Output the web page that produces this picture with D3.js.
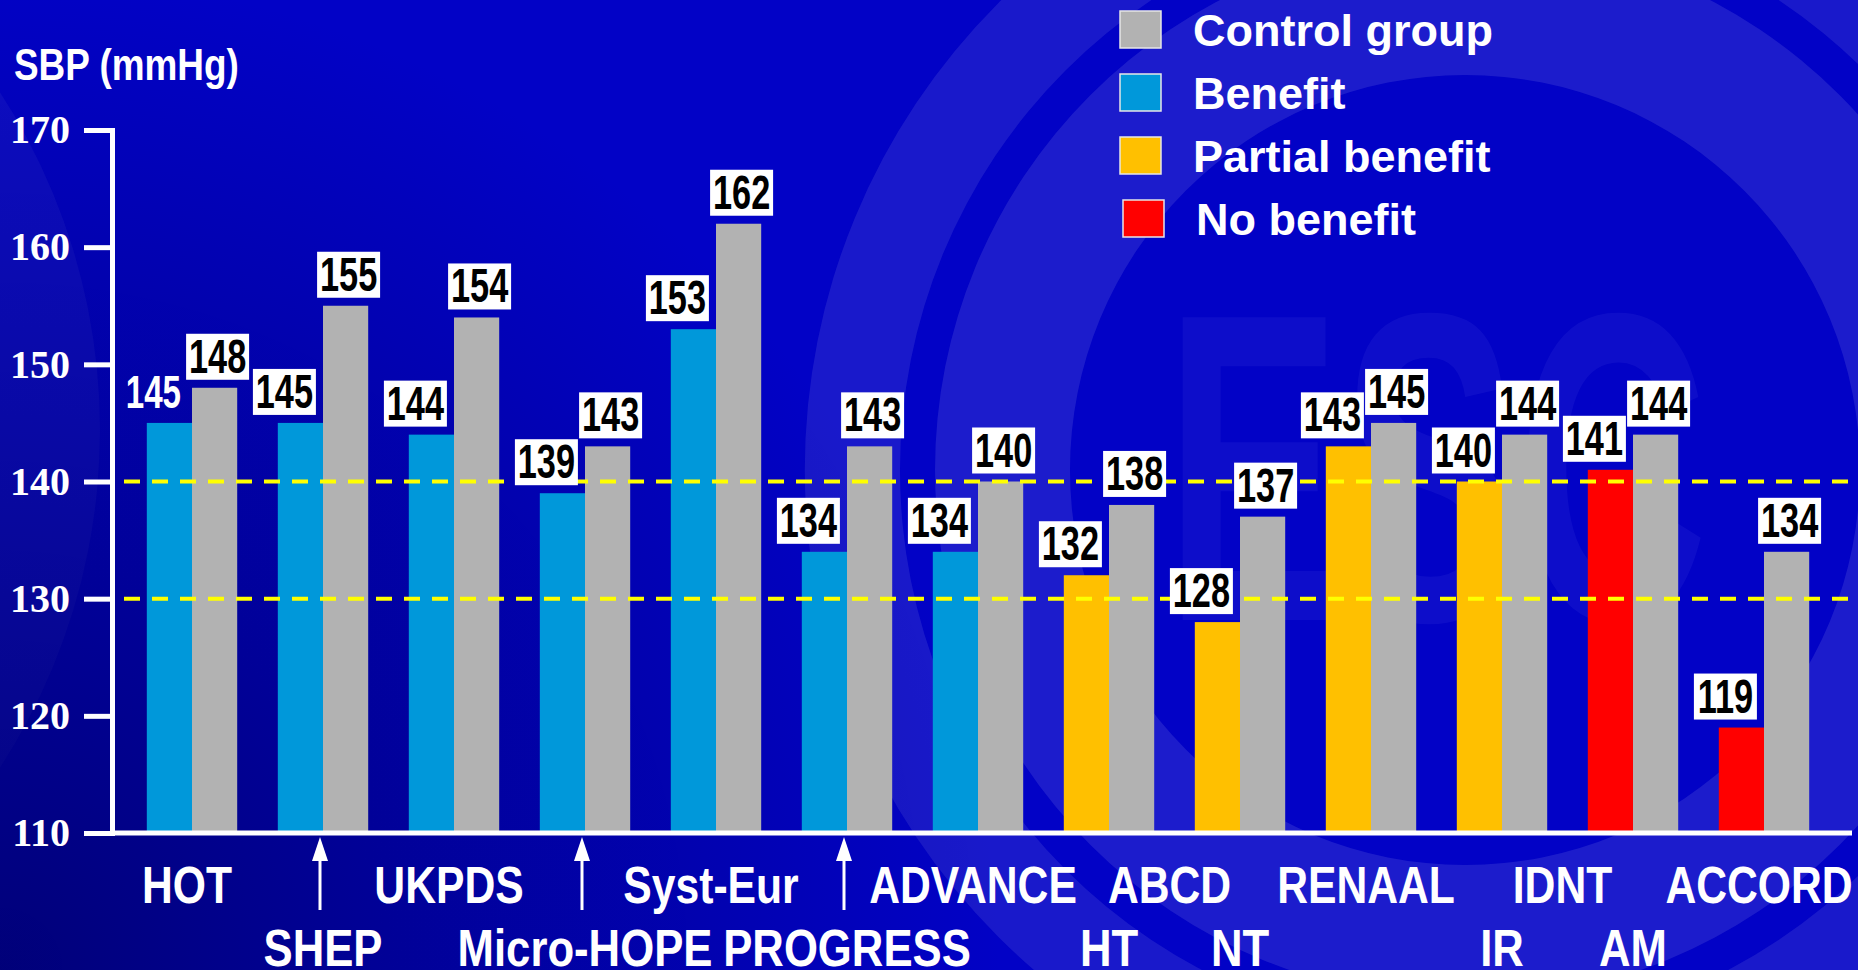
<!DOCTYPE html>
<html>
<head>
<meta charset="utf-8">
<script src="https://cdn.jsdelivr.net/npm/d3@7"></script>
<style>
  html, body { margin: 0; padding: 0; background: #0202c6; overflow: hidden; }
</style>
</head>
<body>
<div id="chart"></div>
<script>
// trials, in drawing order
const trials = ["HOT", "SHEP", "UKPDS", "Micro-HOPE", "Syst-Eur", "PROGRESS", "ADVANCE",
                "ABCD HT", "ABCD NT", "RENAAL", "IDNT IR", "IDNT AM", "ACCORD"];
// achieved SBP in the treated arm and in the control arm (mmHg)
const treated = [145, 145, 144, 139, 153, 134, 134, 132, 128, 143, 140, 141, 119];
const control = [148, 155, 154, 143, 162, 143, 140, 138, 137, 145, 144, 144, 134];
const outcome = ["Benefit", "Benefit", "Benefit", "Benefit", "Benefit", "Benefit", "Benefit",
                 "Partial benefit", "Partial benefit", "Partial benefit", "Partial benefit",
                 "No benefit", "No benefit"];

const yTicks = [110, 120, 130, 140, 150, 160, 170];
const targetLines = [140, 130];
const legendItems = ["Control group", "Benefit", "Partial benefit", "No benefit"];

// names under the axis: first row, second row
const topLabels = ["HOT", "UKPDS", "Syst-Eur", "ADVANCE", "ABCD", "RENAAL", "IDNT", "ACCORD"];
const topLabelTrials = [["HOT"], ["UKPDS"], ["Syst-Eur"], ["ADVANCE"], ["ABCD HT", "ABCD NT"],
                        ["RENAAL"], ["IDNT IR", "IDNT AM"], ["ACCORD"]];
const bottomLabels = ["SHEP", "Micro-HOPE", "PROGRESS", "HT", "NT", "IR", "AM"];
const bottomLabelTrials = ["SHEP", "Micro-HOPE", "PROGRESS", "ABCD HT", "ABCD NT", "IDNT IR", "IDNT AM"];
const arrowTrials = ["SHEP", "Micro-HOPE", "PROGRESS"];

const colors = {
    "Control group": "#b2b2b2",
    "Benefit": "#0098da",
    "Partial benefit": "#ffc000",
    "No benefit": "#ff0000"
};

const W = 1858, H = 970;
const sans = "'Liberation Sans', Arial, sans-serif";

const svg = d3.select("#chart")
    .append("svg")
    .attr("width", W)
    .attr("height", H)
    .style("font-family", sans);

// squeeze text horizontally (the slide uses a narrow bold face)
function condense(sel, k) {
    sel.each(function() {
        const w = this.getComputedTextLength();
        d3.select(this).attr("textLength", w * k).attr("lengthAdjust", "spacingAndGlyphs");
    });
}

// background + faint logo watermark
const defs = svg.append("defs");
const shade = defs.append("radialGradient")
    .attr("id", "shade")
    .attr("gradientUnits", "userSpaceOnUse")
    .attr("cx", 0).attr("cy", H).attr("r", 1000);
shade.append("stop").attr("offset", "0%").attr("stop-color", "#000066").attr("stop-opacity", 0.8);
shade.append("stop").attr("offset", "100%").attr("stop-color", "#000066").attr("stop-opacity", 0);

svg.append("rect").attr("width", W).attr("height", H).attr("fill", "#0202c6");

const wm = svg.append("g").attr("transform", "translate(1465,470)");
const ring = d3.arc().startAngle(0).endAngle(2 * Math.PI);
wm.append("path")
    .attr("d", ring.innerRadius(395).outerRadius(530)())
    .attr("fill", "#4444d4").attr("opacity", 0.4);
wm.append("path")
    .attr("d", ring.innerRadius(565).outerRadius(660)())
    .attr("fill", "#4444d4").attr("opacity", 0.35);
wm.append("text")
    .attr("x", -300).attr("y", 150)
    .style("font-size", "440px").style("font-weight", "bold")
    .attr("fill", "#5a5ae6").attr("opacity", 0.13)
    .text("ESC")
    .call(condense, 0.6);

svg.append("circle")
    .attr("cx", -520).attr("cy", 430).attr("r", 620)
    .attr("fill", "#3a3ad0").attr("opacity", 0.22);
svg.append("rect").attr("width", W).attr("height", H).attr("fill", "url(#shade)");

// scales
const x = d3.scaleBand()
    .domain(trials)
    .range([126.5, 1829.5])
    .paddingInner(0.31)
    .paddingOuter(0.155);
const sub = d3.scaleBand()
    .domain(["treated", "control"])
    .range([0, x.bandwidth()]);
const y = d3.scaleLinear()
    .domain([110, 170])
    .range([833, 130]);

const rows = trials.map((t, i) => ({
    trial: t, treated: treated[i], control: control[i], outcome: outcome[i], i
}));

// y axis
const yAxis = svg.append("g")
    .attr("transform", "translate(112,0)")
    .call(d3.axisLeft(y).tickValues(yTicks).tickSize(28).tickSizeOuter(0).tickPadding(14));
yAxis.select(".domain")
    .attr("stroke", "white").attr("stroke-width", 5).attr("stroke-linecap", "square");
yAxis.selectAll(".tick line").attr("stroke", "white").attr("stroke-width", 5);
yAxis.selectAll(".tick text")
    .attr("fill", "white")
    .style("font-family", "'Liberation Serif', 'Times New Roman', serif")
    .style("font-size", "40px")
    .style("font-weight", "bold");

svg.append("text")
    .attr("x", 14).attr("y", 80)
    .attr("fill", "white")
    .style("font-size", "45px").style("font-weight", "bold")
    .text("SBP (mmHg)")
    .call(condense, 0.82);

// bars
const groups = svg.append("g").selectAll("g")
    .data(rows)
    .enter()
    .append("g")
    .attr("transform", d => `translate(${x(d.trial)},0)`);

groups.append("rect")
    .attr("x", sub("treated"))
    .attr("y", d => y(d.treated))
    .attr("width", sub.bandwidth())
    .attr("height", d => y(110) - y(d.treated))
    .attr("fill", d => colors[d.outcome]);

groups.append("rect")
    .attr("x", sub("control"))
    .attr("y", d => y(d.control))
    .attr("width", sub.bandwidth())
    .attr("height", d => y(110) - y(d.control))
    .attr("fill", colors["Control group"]);

// x axis line
svg.append("line")
    .attr("x1", 110).attr("x2", 1852)
    .attr("y1", y(110)).attr("y2", y(110))
    .attr("stroke", "white").attr("stroke-width", 5);

// target lines
svg.selectAll(".target")
    .data(targetLines)
    .enter()
    .append("line")
    .attr("class", "target")
    .attr("x1", 124).attr("x2", W)
    .attr("y1", d => y(d)).attr("y2", d => y(d))
    .attr("stroke", "#ffff00")
    .attr("stroke-width", 4)
    .attr("stroke-dasharray", "16,12");

// value labels (drawn above the target lines)
const labelLayer = svg.append("g").selectAll("g")
    .data(rows)
    .enter()
    .append("g")
    .attr("transform", d => `translate(${x(d.trial)},0)`);

const boxW = 63, boxH = 46;
function addLabel(g, key, offset) {
    g.each(function(d) {
        const v = d[key];
        const cx = sub(key) + sub.bandwidth() / 2 + offset;
        const bottom = y(v) - 8;
        const sel = d3.select(this);
        const plain = key === "treated" && d.i === 0;
        if (!plain) {
            sel.append("rect")
                .attr("x", cx - boxW / 2).attr("y", bottom - boxH)
                .attr("width", boxW).attr("height", boxH)
                .attr("fill", "white");
        }
        sel.append("text")
            .attr("x", cx).attr("y", bottom - 7)
            .attr("text-anchor", "middle")
            .attr("fill", plain ? "white" : "black")
            .style("font-size", plain ? "46px" : "49px")
            .style("font-weight", "bold")
            .text(v)
            .call(condense, plain ? 0.72 : 0.7);
    });
}
addLabel(labelLayer, "treated", -16);
addLabel(labelLayer, "control", 3);

// trial names
const center = t => x(t) + x.bandwidth() / 2;
svg.selectAll(".name-top")
    .data(topLabels)
    .enter()
    .append("text")
    .attr("class", "name-top")
    .attr("x", (d, i) => d3.mean(topLabelTrials[i], center) - 5)
    .attr("y", 903)
    .attr("text-anchor", "middle")
    .attr("fill", "white")
    .style("font-size", "52px").style("font-weight", "bold")
    .text(d => d)
    .call(condense, 0.82);

svg.selectAll(".name-bottom")
    .data(bottomLabels)
    .enter()
    .append("text")
    .attr("class", "name-bottom")
    .attr("x", (d, i) => center(bottomLabelTrials[i]))
    .attr("y", 966)
    .attr("text-anchor", "middle")
    .attr("fill", "white")
    .style("font-size", "52px").style("font-weight", "bold")
    .text(d => d)
    .call(condense, 0.84);

// arrows pointing to second-row names
const arrows = svg.selectAll(".arrow")
    .data(arrowTrials)
    .enter()
    .append("g")
    .attr("class", "arrow")
    .attr("transform", d => `translate(${center(d) - 3},0)`);
arrows.append("line")
    .attr("x1", 0).attr("x2", 0)
    .attr("y1", 855).attr("y2", 910)
    .attr("stroke", "white").attr("stroke-width", 3);
arrows.append("path")
    .attr("d", "M0,837 L-8,861 L8,861 Z")
    .attr("fill", "white");

// legend
const legend = svg.append("g").selectAll("g")
    .data(legendItems)
    .enter()
    .append("g")
    .attr("transform", (d, i) => `translate(0,${46 + i * 63})`);
legend.append("rect")
    .attr("x", (d, i) => i === 3 ? 1123 : 1120)
    .attr("y", -35)
    .attr("width", 41).attr("height", 37)
    .attr("fill", d => colors[d])
    .attr("stroke", "#e6e6e6").attr("stroke-width", 1.5);
legend.append("text")
    .attr("x", (d, i) => i === 3 ? 1196 : 1193)
    .attr("y", 0)
    .attr("fill", "white")
    .style("font-size", "45px").style("font-weight", "bold")
    .text(d => d);
</script>
</body>
</html>
